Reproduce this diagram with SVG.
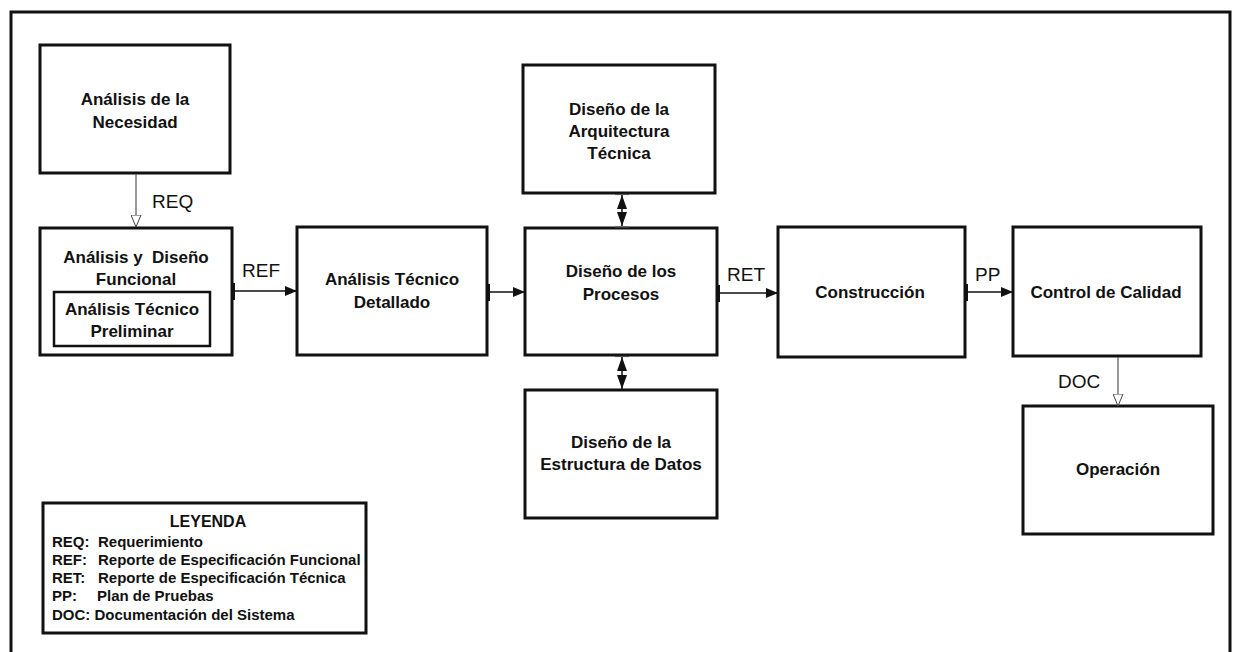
<svg xmlns="http://www.w3.org/2000/svg" width="1237" height="652" viewBox="0 0 1237 652">
<style>
.box{fill:#fff;stroke:#111;stroke-width:3}
.inner{fill:none;stroke:#111;stroke-width:2.5}
.t{font-family:"Liberation Sans",Arial,sans-serif;font-weight:bold;font-size:17px;fill:#111;text-anchor:middle}
.lbl{font-family:"Liberation Sans",Arial,sans-serif;font-size:19px;fill:#111}
.lg{font-family:"Liberation Sans",Arial,sans-serif;font-weight:bold;font-size:15px;fill:#111}
.conn{stroke:#111;stroke-width:1.5;fill:none}
.thin{stroke:#555;stroke-width:1.2;fill:none}
.tee{fill:#111}
</style>
<defs>
<marker id="ah" viewBox="0 0 12 10" refX="12" refY="5" markerWidth="12" markerHeight="10" markerUnits="userSpaceOnUse" orient="auto"><path d="M0,0 L12,5 L0,10 z" fill="#111"/></marker>
<marker id="oh" viewBox="0 0 13 11" refX="12.5" refY="5.5" markerWidth="13" markerHeight="11" markerUnits="userSpaceOnUse" orient="auto"><path d="M0.5,0.5 L12.5,5.5 L0.5,10.5 z" fill="#fff" stroke="#444" stroke-width="1"/></marker>
<marker id="dh" viewBox="0 0 14 10" refX="14" refY="5" markerWidth="14" markerHeight="10" markerUnits="userSpaceOnUse" orient="auto-start-reverse"><path d="M0,0 L14,5 L0,10 z" fill="#111"/></marker>
</defs>
<rect width="1237" height="652" fill="#fff"/>
<path d="M11,652 V12 H1230 V652" fill="none" stroke="#111" stroke-width="3"/>

<g id="n1"><rect class="box" x="40" y="45" width="190" height="128"/><text class="t" x="135" y="105">Análisis de la</text><text class="t" x="135" y="128">Necesidad</text></g>
<g id="n2"><rect class="box" x="40" y="228" width="192" height="127"/><text class="t" x="136" y="263" xml:space="preserve">Análisis y  Diseño</text><text class="t" x="136" y="285">Funcional</text>
<rect class="inner" x="54" y="292" width="156" height="54"/><text class="t" x="132" y="315">Análisis Técnico</text><text class="t" x="132" y="337">Preliminar</text></g>
<g id="n3"><rect class="box" x="297" y="227" width="190" height="128"/><text class="t" x="392" y="285">Análisis Técnico</text><text class="t" x="392" y="308">Detallado</text></g>
<g id="n4"><rect class="box" x="525" y="228" width="192" height="127"/><text class="t" x="621" y="277">Diseño de los</text><text class="t" x="621" y="300">Procesos</text></g>
<g id="n5"><rect class="box" x="523" y="65" width="192" height="128"/><text class="t" x="619" y="115">Diseño de la</text><text class="t" x="619" y="137">Arquitectura</text><text class="t" x="619" y="159">Técnica</text></g>
<g id="n6"><rect class="box" x="525" y="390" width="192" height="128"/><text class="t" x="621" y="448">Diseño de la</text><text class="t" x="621" y="470">Estructura de Datos</text></g>
<g id="n7"><rect class="box" x="778" y="227" width="187" height="130"/><text class="t" x="870" y="298">Construcción</text></g>
<g id="n8"><rect class="box" x="1013" y="227" width="188" height="129"/><text class="t" x="1106" y="298">Control de Calidad</text></g>
<g id="n9"><rect class="box" x="1023" y="406" width="190" height="128"/><text class="t" x="1118" y="475">Operación</text></g>

<g id="legend"><rect class="box" x="43" y="503" width="323" height="130"/>
<text class="t" x="208" y="527" style="font-size:16px">LEYENDA</text>
<text class="lg" x="52" y="547">REQ:</text><text class="lg" x="98" y="547">Requerimiento</text>
<text class="lg" x="52" y="565">REF:</text><text class="lg" x="98" y="565">Reporte de Especificación Funcional</text>
<text class="lg" x="52" y="583">RET:</text><text class="lg" x="98" y="583">Reporte de Especificación Técnica</text>
<text class="lg" x="52" y="601">PP:</text><text class="lg" x="97" y="601">Plan de Pruebas</text>
<text class="lg" x="52" y="620">DOC: Documentación del Sistema</text>
</g>

<g id="connectors">
<line class="thin" x1="136" y1="174" x2="136" y2="227" marker-end="url(#oh)"/>
<text class="lbl" x="152" y="208">REQ</text>

<rect class="tee" x="231" y="283" width="4" height="17"/>
<line class="conn" x1="233" y1="291" x2="297" y2="291" marker-end="url(#ah)"/>
<text class="lbl" x="242" y="277">REF</text>

<rect class="tee" x="486" y="284" width="4" height="17"/>
<line class="conn" x1="488" y1="292" x2="525" y2="292" marker-end="url(#ah)"/>

<rect class="tee" x="716" y="285" width="4" height="17"/>
<line class="conn" x1="718" y1="293" x2="778" y2="293" marker-end="url(#ah)"/>
<text class="lbl" x="727" y="281">RET</text>

<rect class="tee" x="964" y="284" width="4" height="17"/>
<line class="conn" x1="966" y1="292" x2="1013" y2="292" marker-end="url(#ah)"/>
<text class="lbl" x="975" y="281">PP</text>

<line class="thin" x1="1118" y1="357" x2="1118" y2="406" marker-end="url(#oh)"/>
<text class="lbl" x="1058" y="388">DOC</text>

<line class="thin" x1="615" y1="194.5" x2="629" y2="194.5"/>
<line class="thin" x1="615" y1="227" x2="629" y2="227"/>
<line class="conn" x1="622" y1="195" x2="622" y2="226" marker-start="url(#dh)" marker-end="url(#dh)"/>

<line class="thin" x1="615" y1="356.5" x2="629" y2="356.5"/>
<line class="conn" x1="622" y1="357" x2="622" y2="389" marker-start="url(#dh)" marker-end="url(#dh)"/>
</g>
</svg>
